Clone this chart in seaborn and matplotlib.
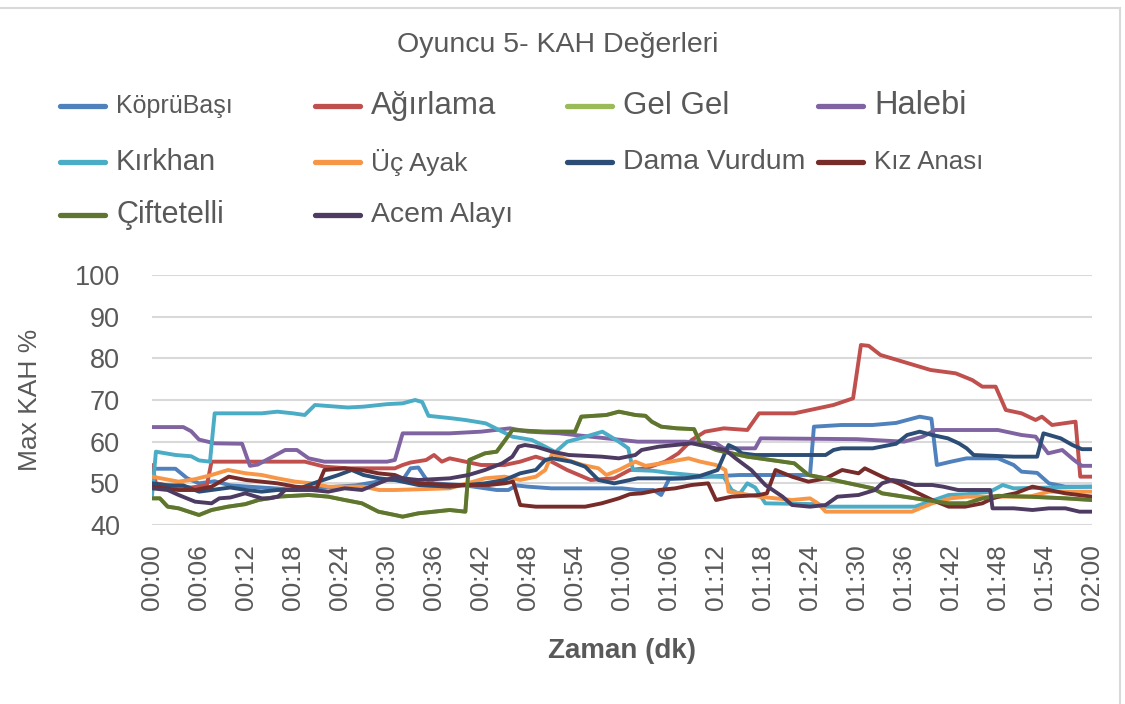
import pandas as pd
import seaborn as sns
import matplotlib.pyplot as plt
from matplotlib.lines import Line2D

# Oyuncu 5 - KAH values per dance (minute, value)

kopru_t = [0, 3, 4.5, 6, 8, 10, 14, 18, 22, 26, 30, 32, 33, 34, 35, 36, 40, 44, 45.5, 46.5, 48, 51, 60, 62, 64,
           65, 66, 70, 75, 84, 84.5, 88, 92, 95, 98, 99.5, 100.2, 102, 104, 108, 110, 111, 113, 114.5, 116.6, 120]
kopru_v = [53.5, 53.5, 51.2, 50, 50.5, 49.5, 49, 48.5, 49, 49.5, 50.8, 50.8, 53.6, 53.8, 51, 50, 49.5, 48.4, 48.4,
           49.5, 49.2, 48.8, 48.8, 48.4, 48.4, 47.2, 51, 51.5, 52, 52, 63.6, 64, 64, 64.5, 66, 65.5, 54.4, 55.2, 56,
           56, 54.4, 52.8, 52.5, 50, 49.2, 49.2]

agir_t = [0, 0.5, 2, 5, 7, 7.6, 19.5, 22, 25, 31, 32, 33, 35, 36, 37, 38, 40, 42, 45, 47, 49, 51, 53, 56, 59, 61,
          63, 65.5, 67.2, 68.9, 70.6, 73, 76, 77.5, 82, 83, 85, 87, 89.5, 90.5, 91.5, 93, 99.4, 102.6, 104.7, 106,
          107.7, 109, 111, 112.8, 113.6, 114.9, 117.9, 118.5, 120]
agir_v = [54.4, 50, 49.5, 49, 49.5, 55.2, 55.2, 54, 53.6, 53.6, 54.4, 55, 55.6, 56.8, 55.2, 56, 55.2, 54.4, 54.4,
          55.2, 56.4, 55.2, 53.2, 50.8, 51.2, 53.2, 53.6, 55.2, 57.2, 60.4, 62.4, 63.2, 62.8, 66.8, 66.8, 67.2, 68,
          68.8, 70.4, 83.2, 83, 80.8, 77.2, 76.4, 74.8, 73.2, 73.2, 67.6, 66.8, 65.2, 66, 64, 64.8, 51.6, 51.6]

halebi_t = [0, 4, 5, 6, 8, 11.5, 12.5, 13.5, 15, 17, 18.5, 20, 22, 30, 31, 32, 38, 42, 45.7, 48, 52, 56, 60, 62,
            68, 72, 73, 77, 77.7, 90, 96, 98.4, 100, 108, 111, 112.8, 114.4, 116.2, 117.7, 118.7, 120]
halebi_v = [63.5, 63.5, 62.5, 60.5, 59.6, 59.5, 54.2, 54.5, 56, 58, 58, 56, 55.2, 55.2, 55.6, 62, 62, 62.4, 63.2,
            62.4, 62, 61.2, 60.4, 60, 60, 59.6, 58.4, 58.4, 60.8, 60.6, 60, 61.2, 62.8, 62.8, 61.6, 61.2, 57.2, 58,
            55.6, 54.2, 54.2]

kirk_t = [0, 0.5, 3, 5, 6, 7.4, 8, 14, 16, 18, 19.5, 20.8, 25, 27, 30, 32, 33.6, 34.5, 35.3, 38.3, 40, 42.6, 44.3,
          46, 48.5, 50.2, 51.5, 53, 55, 57.5, 59.6, 60.8, 61.4, 64, 66, 70, 73, 74, 75, 76, 77, 78.3, 85, 86, 97.4,
          101.7, 104, 107, 108.6, 110, 120]
kirk_v = [47, 57.6, 56.8, 56.5, 55.5, 55.2, 66.8, 66.8, 67.2, 66.8, 66.4, 68.8, 68.2, 68.4, 69, 69.2, 70, 69.5,
          66.2, 65.6, 65.2, 64.4, 62.8, 61.2, 60.4, 58.8, 57.5, 60, 61, 62.4, 60, 58.4, 53.2, 53, 52.5, 51.8, 51.5,
          48.4, 47.4, 50, 49, 45.2, 45, 44.4, 44.4, 47.2, 47.4, 48, 49.6, 48.8, 49.2]

ucayak_t = [0, 3.4, 5.5, 7.6, 9.7, 12, 14, 16, 18.3, 20.4, 22.5, 27, 29, 31, 38, 42.5, 45, 47, 49, 50.2, 51.1, 53,
            55, 57, 58, 59.6, 61.7, 63, 65, 68.5, 70, 72, 73.2, 73.6, 75, 77.5, 81.7, 84, 85, 86, 97, 99.6, 102,
            104, 112, 114.5, 120]
ucayak_v = [51.6, 50.4, 51, 52, 53.2, 52.4, 52, 51.2, 50.4, 50, 49.2, 49.2, 48.4, 48.4, 48.8, 51.2, 51.6, 50.8,
            51.6, 53.2, 57.2, 55.6, 54.4, 53.6, 52, 53.2, 55.2, 54.2, 54.8, 56, 55.2, 54.4, 53.2, 48, 47.6, 46.8,
            46, 46.4, 45.2, 43.2, 43.2, 45.2, 46.4, 46.8, 46.8, 48, 48]

dama_t = [0, 2, 4, 6, 8, 10, 12, 14, 16, 18.3, 21.2, 23.8, 25.5, 27, 29, 31, 34, 38, 42.5, 45, 47, 49, 50.2, 51.1,
          53.5, 55.3, 57, 59, 62, 68, 70, 72.2, 73.6, 74.5, 75.3, 77, 86, 87, 88, 92, 95, 96.4, 98, 99.6, 101.6,
          103, 104, 104.9, 110, 113, 113.8, 116, 117.5, 118.7, 120]
dama_v = [50, 49.5, 49.5, 48, 48.5, 49, 48.4, 48, 48.4, 48.4, 50.4, 52, 53.2, 52, 51.2, 50.8, 49.6, 49.2, 50, 50.8,
          52.4, 53.2, 55.6, 56, 55.2, 54, 50.8, 50, 51.2, 51.2, 51.8, 53.2, 59.2, 58.4, 57.2, 56.8, 56.8, 58, 58.4,
          58.4, 59.5, 61.6, 62.4, 61.6, 60.8, 59.6, 58.4, 56.8, 56.4, 56.4, 62, 60.8, 59.2, 58.2, 58.2]

kiz_t = [0, 3.4, 5.5, 7.6, 9.8, 12, 14, 16, 18.3, 21, 22, 24.6, 26.8, 28.9, 31, 32, 34, 38, 43, 45, 46.1, 47, 49,
         55.3, 57.4, 59.6, 61, 62.5, 64.7, 66.8, 68.9, 71, 72, 74, 77.5, 78.5, 79.6, 81.7, 83.8, 86, 88.1, 90.2, 91,
         93.2, 95.3, 97.4, 99.6, 101.7, 103.8, 106, 107.3, 108.1, 110.2, 112.4, 114.5, 116.6, 120]
kiz_v = [49.2, 48.4, 48.4, 49.2, 51.6, 50.8, 50.4, 50, 49.2, 48.8, 53.2, 53.6, 53.2, 52.4, 52, 51.2, 50, 49.6, 49.6,
         50, 50.4, 44.8, 44.4, 44.4, 45.2, 46.4, 47.4, 47.6, 48.4, 48.8, 49.6, 50, 46, 46.8, 47.2, 47.6, 53.2, 51.6,
         50.4, 51.2, 53.2, 52.4, 53.6, 51.6, 50, 48, 46, 44.4, 44.4, 45.2, 46.4, 46.8, 47.6, 49.2, 48.4, 47.6, 46.8]

cift_t = [0, 1, 2, 3.4, 6, 7.6, 9.7, 11.9, 13.6, 16, 20, 22.5, 24.6, 26.8, 28.9, 31, 32, 34, 36, 38, 40, 40.5, 42.5,
          44, 45.1, 46, 50, 54, 54.8, 58, 59.6, 61.7, 63, 63.8, 65, 67, 69.2, 70, 72, 74, 76, 79, 82, 83.8, 86, 88,
          90, 92, 93.2, 97.4, 101.7, 104, 106, 108, 112, 116.6, 120]
cift_v = [46.4, 46.4, 44.4, 44, 42.4, 43.6, 44.4, 45, 46, 46.8, 47.2, 46.8, 46, 45.2, 43.2, 42.4, 42, 42.8, 43.2,
          43.6, 43.2, 55.6, 57.2, 57.6, 60.4, 62.8, 62.4, 62.4, 66, 66.4, 67.2, 66.4, 66.2, 64.8, 63.6, 63.2, 63,
          59.6, 58, 57.2, 56.4, 55.6, 54.8, 52, 51.2, 50.4, 49.6, 48.8, 47.6, 46.4, 45.2, 45.2, 46.4, 47, 46.8,
          46.4, 46]

# Gel Gel cannot be seen in the picture: it runs under Çiftetelli
gelgel_t = list(cift_t)
gelgel_v = list(cift_v)

acem_t = [0, 2, 3.4, 5.5, 7.6, 8.6, 10, 11.9, 14, 15, 16.1, 17, 20.4, 22.5, 24.6, 26.8, 28.9, 31, 32, 34, 38, 40.4,
          42.5, 44.7, 46, 46.8, 47.6, 49, 51.1, 53.2, 57.4, 59.6, 61.7, 62.5, 64.7, 66.8, 68.9, 71, 72, 73.2, 74.5,
          76.5, 78.3, 80.5, 81.7, 84, 86, 87.5, 90.2, 92.3, 93.2, 94.5, 96, 97.4, 99.6, 101, 102.9, 107, 107.3, 110,
          112.4, 114.5, 116.6, 118.4, 120]
acem_v = [48.8, 48.4, 47.2, 45.6, 45.2, 46.4, 46.6, 47.6, 46.4, 46.4, 46.8, 48.4, 48.4, 48, 48.8, 48.4, 50, 51.6,
          51.2, 50.8, 51.2, 52, 53.2, 54.8, 56.4, 58.8, 59.2, 58.8, 57.6, 56.8, 56.4, 56, 56.8, 58, 58.8, 59.2, 59.6,
          58.8, 58.4, 58, 56, 53.2, 49.6, 46.8, 44.8, 44.4, 44.8, 46.8, 47.2, 48.4, 50, 50.8, 50.4, 49.6, 49.6, 49.2,
          48.4, 48.4, 44, 44, 43.6, 44, 44, 43.2, 43.2]

names = ['KöprüBaşı', 'Ağırlama', 'Gel Gel', 'Halebi', 'Kırkhan', 'Üç Ayak', 'Dama Vurdum', 'Kız Anası',
         'Çiftetelli', 'Acem Alayı']
colors = ['#4F81BD', '#C0504D', '#9BBB59', '#8064A2', '#4BACC6', '#F79646', '#2C4D75', '#772C2A',
          '#5F7530', '#4D3B62']
series = [(kopru_t, kopru_v), (agir_t, agir_v), (gelgel_t, gelgel_v), (halebi_t, halebi_v), (kirk_t, kirk_v),
          (ucayak_t, ucayak_v), (dama_t, dama_v), (kiz_t, kiz_v), (cift_t, cift_v), (acem_t, acem_v)]

frames = []
for name, (t, v) in zip(names, series):
    frames.append(pd.DataFrame({'dakika': t, 'kah': v, 'seri': name}))
df = pd.concat(frames, ignore_index=True)

sns.set_style('white')
plt.rcParams['font.family'] = ['Liberation Sans', 'DejaVu Sans']
grey = '#595959'

W, H = 1125, 704
fig = plt.figure(figsize=(W / 100, H / 100), dpi=100)
ax = fig.add_axes([152 / W, 1 - 525 / H, 940 / W, 250 / H])

sns.lineplot(data=df, x='dakika', y='kah', hue='seri', hue_order=names,
             palette=dict(zip(names, colors)), estimator=None, sort=False,
             linewidth=2.8, legend=False, ax=ax)

ax.set_xlim(0, 120)
ax.set_ylim(40, 100)
ax.set_yticks(range(40, 101, 10))
xt = list(range(0, 121, 6))
ax.set_xticks(xt)
ax.set_xticklabels([f'{m // 60:02d}:{m % 60:02d}' for m in xt], rotation=90)
ax.grid(axis='y', color='#D9D9D9', linewidth=1.5)
ax.grid(axis='x', visible=False)
ax.set_axisbelow(True)
for s in ax.spines.values():
    s.set_visible(False)
ax.tick_params(axis='y', length=0, pad=23, labelsize=19.5, labelcolor=grey)
ax.tick_params(axis='x', length=0, pad=14, labelsize=19, labelcolor=grey)

ax.set_ylabel('Max KAH %', fontsize=19, color=grey)
ax.yaxis.set_label_coords(-0.117, 0.5)
ax.set_xlabel('Zaman (dk)', fontsize=20, color=grey, fontweight='bold')
ax.xaxis.set_label_coords(0.5, -0.45)

fig.text(558 / W, 1 - 45 / H, 'Oyuncu 5- KAH Değerleri', ha='center', va='center',
         fontsize=20.5, color=grey)

# legend, laid out like the original (4 columns, 3 rows)
leg_x = [60, 315, 567, 818]
leg_y = [106, 162, 215]
leg_size = [18, 22.5, 22.5, 23.5, 21, 19, 20.4, 18.6, 22, 20.4]
for i, (name, col) in enumerate(zip(names, colors)):
    x0 = leg_x[i % 4]
    y0 = leg_y[i // 4]
    fig.add_artist(Line2D([x0 / W, (x0 + 45) / W], [1 - y0 / H, 1 - y0 / H], color=col,
                          linewidth=3.8, transform=fig.transFigure))
    fig.text((x0 + 56) / W, 1 - y0 / H, name, ha='left', va='center', fontsize=leg_size[i], color=grey)

# chart frame
fig.add_artist(Line2D([0, 1120 / W], [1 - 8 / H, 1 - 8 / H], color='#D9D9D9', linewidth=1.5,
                      transform=fig.transFigure))
fig.add_artist(Line2D([1120 / W, 1120 / W], [0, 1 - 8 / H], color='#D9D9D9', linewidth=1.5,
                      transform=fig.transFigure))

fig.savefig('out.png', dpi=100, facecolor='white')
